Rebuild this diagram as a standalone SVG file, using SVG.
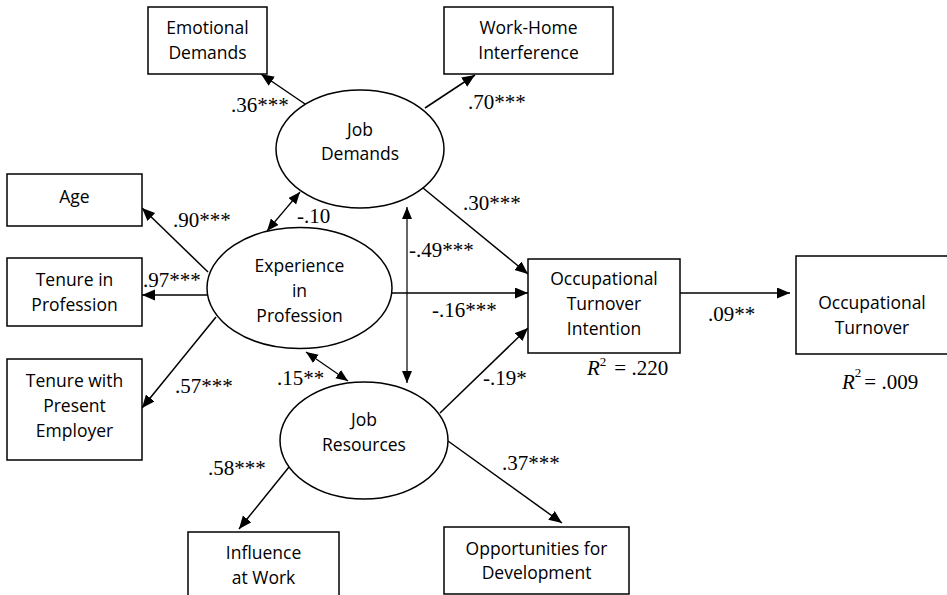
<svg xmlns="http://www.w3.org/2000/svg" width="947" height="595" viewBox="0 0 947 595">
<style>
  .box { fill: #fff; stroke: #000; stroke-width: 1.5; }
  .ell { fill: #fff; stroke: #000; stroke-width: 1.5; }
  .nt { font-family: "Open Sans", "Liberation Sans", sans-serif; font-size: 17.5px; fill: #000; text-anchor: middle; }
  .lbl { font-family: "Liberation Serif", "Times New Roman", serif; font-size: 21px; fill: #000; }
  .arr { stroke: #000; stroke-width: 1.5; fill: none; marker-end: url(#ah); }
  .dbl { stroke: #000; stroke-width: 1.2; fill: none; marker-end: url(#ah2); marker-start: url(#ah2); }
</style>
<defs>
  <marker id="ah" markerUnits="userSpaceOnUse" markerWidth="14" markerHeight="12" refX="13" refY="5.5" orient="auto">
    <path d="M0,0 L13,5.5 L0,11 z" fill="#000"/>
  </marker>
  <marker id="ah2" markerUnits="userSpaceOnUse" markerWidth="14" markerHeight="12" refX="12" refY="5" orient="auto-start-reverse">
    <path d="M0,0 L12,5 L0,10 z" fill="#000"/>
  </marker>
</defs>
<rect width="947" height="595" fill="#fff"/>

<g id="connectors">
  <line class="arr" x1="305" y1="104" x2="261" y2="74"/>
  <line class="arr" x1="425" y1="108" x2="475" y2="75"/>
  <line class="arr" x1="423" y1="188" x2="528" y2="274"/>
  <line class="arr" x1="208" y1="272" x2="142" y2="208"/>
  <line class="arr" x1="207" y1="295" x2="142" y2="295"/>
  <line class="arr" x1="216" y1="317" x2="142" y2="408"/>
  <line class="arr" x1="389" y1="293" x2="528" y2="293"/>
  <line class="arr" x1="440" y1="413" x2="528" y2="328"/>
  <line class="arr" x1="289" y1="467" x2="239" y2="529"/>
  <line class="arr" x1="448" y1="441" x2="562" y2="523"/>
  <line class="arr" x1="680" y1="293" x2="790" y2="293"/>
  <line class="dbl" x1="300" y1="192" x2="267" y2="231"/>
  <line class="dbl" x1="407" y1="207" x2="407" y2="383"/>
  <line class="dbl" x1="306" y1="352" x2="348" y2="381"/>
</g>

<g id="emotional-demands">
  <rect class="box" x="148" y="7" width="119" height="67"/>
  <text class="nt" x="207.5" y="34">Emotional</text>
  <text class="nt" x="207.5" y="59">Demands</text>
</g>
<g id="work-home-interference">
  <rect class="box" x="444" y="7" width="169" height="67"/>
  <text class="nt" x="528.5" y="34">Work-Home</text>
  <text class="nt" x="528.5" y="59">Interference</text>
</g>
<g id="job-demands">
  <ellipse class="ell" cx="360" cy="149" rx="84" ry="59"/>
  <text class="nt" x="360" y="136">Job</text>
  <text class="nt" x="360" y="160">Demands</text>
</g>
<g id="age">
  <rect class="box" x="7" y="174" width="135" height="52"/>
  <text class="nt" x="74.5" y="203">Age</text>
</g>
<g id="experience-in-profession">
  <ellipse class="ell" cx="299.5" cy="288" rx="92.5" ry="60.5"/>
  <text class="nt" x="299.5" y="272">Experience</text>
  <text class="nt" x="299.5" y="297">in</text>
  <text class="nt" x="299.5" y="322">Profession</text>
</g>
<g id="tenure-in-profession">
  <rect class="box" x="7" y="258" width="135" height="68"/>
  <text class="nt" x="74.5" y="286">Tenure in</text>
  <text class="nt" x="74.5" y="311">Profession</text>
</g>
<g id="tenure-with-present-employer">
  <rect class="box" x="7" y="359" width="135" height="101"/>
  <text class="nt" x="74.5" y="387">Tenure with</text>
  <text class="nt" x="74.5" y="412">Present</text>
  <text class="nt" x="74.5" y="437">Employer</text>
</g>
<g id="job-resources">
  <ellipse class="ell" cx="364" cy="440.5" rx="84" ry="58.5"/>
  <text class="nt" x="364" y="426">Job</text>
  <text class="nt" x="364" y="451">Resources</text>
</g>
<g id="influence-at-work">
  <rect class="box" x="188" y="532" width="151" height="75"/>
  <text class="nt" x="263.5" y="559">Influence</text>
  <text class="nt" x="263.5" y="584">at Work</text>
</g>
<g id="opportunities-for-development">
  <rect class="box" x="444" y="527" width="185" height="67"/>
  <text class="nt" x="536.5" y="555">Opportunities for</text>
  <text class="nt" x="536.5" y="579">Development</text>
</g>
<g id="occupational-turnover-intention">
  <rect class="box" x="528" y="259" width="152" height="94"/>
  <text class="nt" x="604" y="285">Occupational</text>
  <text class="nt" x="604" y="310">Turnover</text>
  <text class="nt" x="604" y="335">Intention</text>
</g>
<g id="occupational-turnover">
  <rect class="box" x="796" y="256" width="153" height="98"/>
  <text class="nt" x="872" y="309">Occupational</text>
  <text class="nt" x="872" y="334">Turnover</text>
</g>

<g id="labels">
  <text class="lbl" x="231" y="112">.36***</text>
  <text class="lbl" x="468" y="109">.70***</text>
  <text class="lbl" x="463" y="210">.30***</text>
  <text class="lbl" x="173" y="227">.90***</text>
  <text class="lbl" x="297" y="223">-.10</text>
  <text class="lbl" x="409" y="257">-.49***</text>
  <text class="lbl" x="143" y="287">.97***</text>
  <text class="lbl" x="432" y="317">-.16***</text>
  <text class="lbl" x="175" y="393">.57***</text>
  <text class="lbl" x="277" y="385">.15**</text>
  <text class="lbl" x="483" y="385">-.19*</text>
  <text class="lbl" x="208" y="475">.58***</text>
  <text class="lbl" x="502" y="470">.37***</text>
  <text class="lbl" x="708" y="321">.09**</text>
  <text class="lbl" x="587" y="375"><tspan font-style="italic">R</tspan><tspan font-size="13" dy="-9">2</tspan><tspan dy="9" dx="8">= .220</tspan></text>
  <text class="lbl" x="842" y="389"><tspan font-style="italic">R</tspan><tspan font-size="13" dy="-12">2</tspan><tspan dy="12" dx="3">= .009</tspan></text>
</g>
</svg>
